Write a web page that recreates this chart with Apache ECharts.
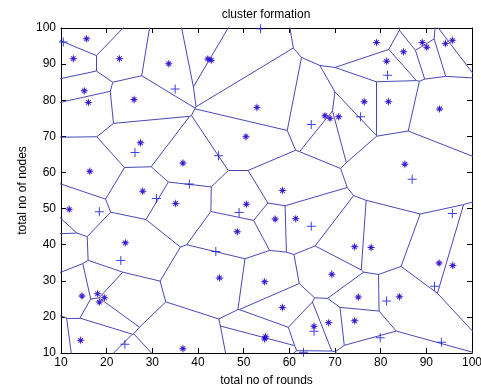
<!DOCTYPE html>
<html>
<head>
<meta charset="utf-8">
<script src="https://cdn.jsdelivr.net/npm/echarts@6/dist/echarts.min.js"></script>
<style>
  html, body { margin: 0; padding: 0; background: #fff; }
  #main { width: 481px; height: 387px; }
</style>
</head>
<body>
<div id="main"></div>
<script>
// cluster heads (red + with blue *), these are the voronoi sites
var heads = [
    [15.6, 97.0], [12.7, 91.5], [22.8, 91.5], [15.1, 82.6], [16.0, 79.4], [26.0, 80.2],
    [27.4, 68.2], [16.3, 60.3], [27.9, 54.8], [33.6, 90.1], [42.15, 91.45], [42.9, 91.1],
    [52.9, 78.0], [50.5, 69.9], [36.7, 62.6], [76.4, 79.6], [67.8, 75.7], [68.9, 75.0],
    [70.8, 75.4], [58.5, 55.0], [79.1, 96.0], [85.0, 93.4], [81.3, 90.8], [89.1, 96.0],
    [90.1, 94.7], [94.2, 95.7], [95.7, 96.6], [81.7, 79.6], [92.9, 77.6], [85.3, 62.3],
    [11.8, 49.8], [24.1, 40.5], [14.6, 25.8], [18.0, 26.4], [19.5, 25.3], [18.4, 24.1],
    [14.3, 13.5], [35.1, 51.4], [50.6, 51.2], [48.6, 43.6], [44.7, 30.8], [54.6, 29.7],
    [54.8, 14.5], [54.6, 13.9], [36.7, 11.2], [56.9, 47.1], [61.4, 47.2], [74.3, 39.4],
    [77.9, 39.2], [69.3, 31.8], [75.1, 25.5], [58.5, 22.6], [65.4, 17.4], [68.6, 18.4],
    [74.3, 18.9], [92.8, 34.9], [95.8, 34.2], [84.1, 25.6]
];
// heads lying outside the visible range (only felt through their cells)
var hiddenHeads = [
    [7.5, 40.0], [7.2, 45.8], [9.5, 13.0], [26.6, 3.8], [65.2, 3.8], [78.0, 8.2]
];
// ordinary nodes (blue +)
var nodes = [
    [10.5, 96.1], [26.2, 65.5], [35.0, 83.1], [44.5, 64.6], [38.1, 56.8], [53.7, 99.8],
    [75.6, 75.4], [64.8, 73.3], [81.5, 86.9], [86.9, 58.1], [30.9, 52.8], [18.4, 49.1],
    [23.1, 35.6], [24.0, 12.4], [49.0, 48.9], [43.9, 38.1], [64.8, 45.1], [65.4, 16.0],
    [63.1, 10.2], [95.7, 48.6], [91.8, 28.5], [81.3, 24.4], [79.9, 14.2], [93.3, 13.0]
];

// voronoi edges by clipping a big box with the bisector half-planes
function clipCell(poly, tags, nx, ny, c, j) {
    var out = [], outTags = [];
    for (var k = 0; k < poly.length; k++) {
        var a = poly[k], b = poly[(k + 1) % poly.length];
        var da = nx * a[0] + ny * a[1] - c;
        var db = nx * b[0] + ny * b[1] - c;
        if (da <= 0) {
            out.push(a); outTags.push(tags[k]);
            if (db > 0) {
                var t = da / (da - db);
                out.push([a[0] + t * (b[0] - a[0]), a[1] + t * (b[1] - a[1])]);
                outTags.push(j);
            }
        } else if (db <= 0) {
            var t2 = da / (da - db);
            out.push([a[0] + t2 * (b[0] - a[0]), a[1] + t2 * (b[1] - a[1])]);
            outTags.push(tags[k]);
        }
    }
    return { poly: out, tags: outTags };
}

function voronoiEdges(sites) {
    var edges = [];
    for (var i = 0; i < sites.length; i++) {
        var cell = { poly: [[-500, -500], [600, -500], [600, 600], [-500, 600]], tags: [-1, -1, -1, -1] };
        for (var j = 0; j < sites.length; j++) {
            if (j === i) continue;
            var nx = sites[j][0] - sites[i][0], ny = sites[j][1] - sites[i][1];
            var mx = (sites[j][0] + sites[i][0]) / 2, my = (sites[j][1] + sites[i][1]) / 2;
            cell = clipCell(cell.poly, cell.tags, nx, ny, nx * mx + ny * my, j);
        }
        var p = cell.poly;
        for (var k = 0; k < p.length; k++) {
            if (cell.tags[k] > i) {
                edges.push({ coords: [p[k], p[(k + 1) % p.length]] });
            }
        }
    }
    return edges;
}

var edges = voronoiEdges(heads.concat(hiddenHeads));

var plusPath = 'path://M4,0H5V9H4Z M0,4H9V5H0Z';
var redPlusPath = 'path://M3.5,0H4.5V8H3.5Z M0,3.5H8V4.5H0Z';
var starPath = 'path://M2.5,0H3.5V6H2.5Z M0,2.5H6V3.5H0Z M0.35,1.05L1.05,0.35L5.65,4.95L4.95,5.65Z M4.95,0.35L5.65,1.05L1.05,5.65L0.35,4.95Z';

var font = 'Liberation Sans, Arial, sans-serif';
var chart = echarts.init(document.getElementById('main'));

var axisCommon = {
    type: 'value',
    min: 10,
    max: 100,
    interval: 10,
    axisLine: { show: true, onZero: false, lineStyle: { color: '#000', width: 1 } },
    axisTick: { show: true, inside: true, length: 5, lineStyle: { color: '#000' } },
    splitLine: { show: false }
};

var option = {
    backgroundColor: '#fff',
    animation: false,
    graphic: [{
        type: 'text',
        x: 266,
        y: 15,
        style: {
            text: 'cluster formation',
            align: 'center',
            verticalAlign: 'middle',
            font: '12px ' + font,
            fill: '#000'
        }
    }],
    grid: { left: 61, right: 9, top: 28, bottom: 34, containLabel: false, outerBoundsMode: 'none' },
    xAxis: [
        Object.assign({}, axisCommon, {
            position: 'bottom',
            name: 'total no of rounds',
            nameLocation: 'middle',
            nameGap: 22,
            nameTextStyle: { fontFamily: font, fontSize: 12, color: '#000' },
            axisLabel: { color: '#000', fontFamily: font, fontSize: 12, margin: 4 }
        }),
        Object.assign({}, axisCommon, { position: 'top', axisLabel: { show: false } })
    ],
    yAxis: [
        Object.assign({}, axisCommon, {
            position: 'left',
            name: 'total no of nodes',
            nameLocation: 'middle',
            nameGap: 32,
            nameMoveOverlap: false,
            nameTextStyle: { fontFamily: font, fontSize: 12, color: '#000' },
            axisLabel: { color: '#000', fontFamily: font, fontSize: 12, margin: 5 }
        }),
        Object.assign({}, axisCommon, { position: 'right', axisLabel: { show: false } })
    ],
    series: [
        {
            type: 'lines',
            coordinateSystem: 'cartesian2d',
            clip: true,
            silent: true,
            lineStyle: { color: '#4848b6', width: 1, opacity: 1 },
            data: edges
        },
        {
            type: 'scatter',
            symbol: plusPath,
            symbolSize: 9,
            itemStyle: { color: '#1010e0' },
            data: nodes
        },
        {
            type: 'scatter',
            symbol: redPlusPath,
            symbolSize: 8,
            itemStyle: { color: '#e85a5a' },
            data: heads
        },
        {
            type: 'scatter',
            symbol: starPath,
            symbolSize: 6,
            itemStyle: { color: '#0000e8' },
            data: heads
        }
    ]
};
chart.setOption(option);
</script>
</body>
</html>
